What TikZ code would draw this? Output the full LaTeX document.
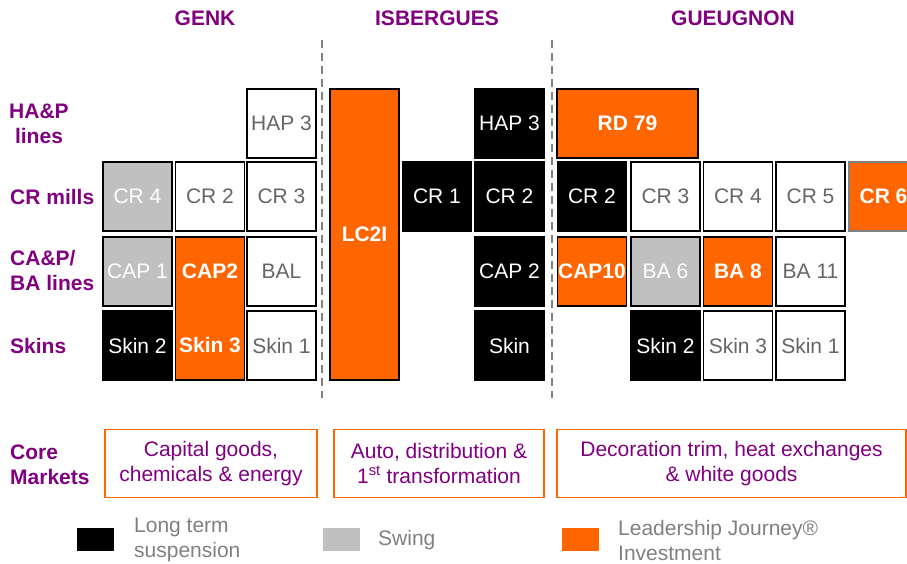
\documentclass[tikz,border=0pt]{standalone}
\usepackage{fontspec}
\setmainfont{Liberation Sans}
\usepackage{tikz}
\definecolor{amPurple}{RGB}{128,0,128}
\definecolor{amOrange}{RGB}{255,102,0}
\definecolor{amGray}{RGB}{192,192,192}
\definecolor{amText}{RGB}{102,102,102}
\definecolor{amLegend}{RGB}{128,128,128}

\begin{document}
\begin{tikzpicture}[x=1pt, y=-1pt, font=\fontsize{21pt}{25pt}\selectfont]
	\clip (0,0) rectangle (907,563);
	\tikzstyle{cell} = [rectangle, minimum width=69pt, minimum height=69pt, inner sep=0pt, line width=1.5pt]
	\tikzstyle{blk} = [cell, fill=black, draw=black, text=white]
	\tikzstyle{swg} = [cell, fill=amGray, draw=black, text=white]
	\tikzstyle{inv} = [cell, fill=amOrange, draw=black, text=white, font=\fontsize{21pt}{25pt}\selectfont\bfseries]
	\tikzstyle{idle} = [cell, fill=white, draw=black, text=amText]
	\tikzstyle{site} = [text=amPurple, font=\fontsize{21pt}{25pt}\selectfont\bfseries, inner sep=0pt]
	\tikzstyle{rowlbl} = [site, anchor=west, align=left]
	\tikzstyle{mkt} = [draw=amOrange, line width=1.5pt, text=amPurple, align=center, minimum height=68pt, inner sep=0pt]
	\tikzstyle{key} = [minimum width=37pt, minimum height=23pt, inner sep=0pt]
	\tikzstyle{keytxt} = [text=amLegend, anchor=west, align=left, inner sep=0pt]
	\tikzstyle{split} = [draw=amLegend, line width=2.5pt, dash pattern=on 8pt off 5pt]
	\node[site] (genk) at (205,18) {GENK};
	\node[site] (isb) at (437,18) {ISBERGUES};
	\node[site] (gue) at (733,18) {GUEUGNON};
	\node[site, align=center] (lbl-hap) at (39,124) {HA\&P\\lines};
	\node[rowlbl] (lbl-cr) at (10,196.5) {CR mills};
	\node[rowlbl] (lbl-cap) at (10,270.5) {CA\&P/\\BA lines};
	\node[rowlbl] (lbl-skin) at (10,346) {Skins};
	\node[rowlbl] (lbl-core) at (10,464.5) {Core\\Markets};
	\coordinate (s1-top) at (322,40);
	\coordinate (s1-bot) at (322,398);
	\coordinate (s2-top) at (552,40);
	\coordinate (s2-bot) at (552,398);
	\draw[split] (s1-top) -- (s1-bot);
	\draw[split] (s2-top) -- (s2-bot);
	\node[idle] (g-hap3) at (281.5,123.5) {HAP 3};
	\node[swg] (g-cr4) at (137.5,196.5) {CR 4};
	\node[idle] (g-cr2) at (210,196.5) {CR 2};
	\node[idle] (g-cr3) at (281.5,196.5) {CR 3};
	\node[swg] (g-cap1) at (137.5,271.5) {CAP 1};
	\node[inv, minimum height=143pt] (g-cap2) at (210,308.5) {};
	\node[text=white, font=\fontsize{21pt}{25pt}\selectfont\bfseries] (g-cap2-txt) at (210,271.5) {CAP2};
	\node[text=white, font=\fontsize{21pt}{25pt}\selectfont\bfseries] (g-skin3-txt) at (210,345.5) {Skin 3};
	\node[idle] (g-bal) at (281.5,271.5) {BAL};
	\node[blk] (g-skin2) at (137.5,345.5) {Skin 2};
	\node[idle] (g-skin1) at (281.5,345.5) {Skin 1};
	\node[inv, minimum height=291pt] (i-lc2i) at (364.5,234.5) {LC2I};
	\node[blk] (i-cr1) at (437,196.5) {CR 1};
	\node[blk] (i-hap3) at (509.5,123.5) {HAP 3};
	\node[blk] (i-cr2) at (509.5,196.5) {CR 2};
	\node[blk] (i-cap2) at (509.5,271.5) {CAP 2};
	\node[blk] (i-skin) at (509.5,345.5) {Skin};
	\node[inv, minimum width=141pt] (u-rd79) at (627.5,123.5) {RD 79};
	\node[blk] (u-cr2) at (592,196.5) {CR 2};
	\node[idle] (u-cr3) at (665.5,196.5) {CR 3};
	\node[idle] (u-cr4) at (738,196.5) {CR 4};
	\node[idle] (u-cr5) at (810.5,196.5) {CR 5};
	\node[inv, draw=amLegend] (u-cr6) at (883.5,196.5) {CR 6};
	\node[inv] (u-cap10) at (592,271.5) {CAP10};
	\node[swg] (u-ba6) at (665.5,271.5) {BA 6};
	\node[inv] (u-ba8) at (738,271.5) {BA 8};
	\node[idle] (u-ba11) at (810.5,271.5) {BA 11};
	\node[blk] (u-skin2) at (665.5,345.5) {Skin 2};
	\node[idle] (u-skin3) at (738,345.5) {Skin 3};
	\node[idle] (u-skin1) at (810.5,345.5) {Skin 1};
	\node[mkt, minimum width=212pt] (m-genk) at (211,463.5) {Capital goods,\\chemicals \& energy};
	\node[mkt, minimum width=210pt] (m-isb) at (439,463.5) {Auto, distribution \&\\1\textsuperscript{st} transformation};
	\node[mkt, minimum width=349pt] (m-gue) at (731.5,463.5) {Decoration trim, heat exchanges\\\& white goods};
	\node[key, fill=black] (key-blk) at (95.5,539.5) {};
	\node[keytxt] (key-blk-txt) at (134,540) {Long term\\suspension};
	\node[key, fill=amGray] (key-swg) at (341,539.5) {};
	\node[keytxt] (key-swg-txt) at (378,540) {Swing};
	\node[key, fill=amOrange] (key-inv) at (580,539.5) {};
	\node[keytxt] (key-inv-txt) at (618,540) {Leadership Journey®\\Investment};
\end{tikzpicture}
\end{document}
